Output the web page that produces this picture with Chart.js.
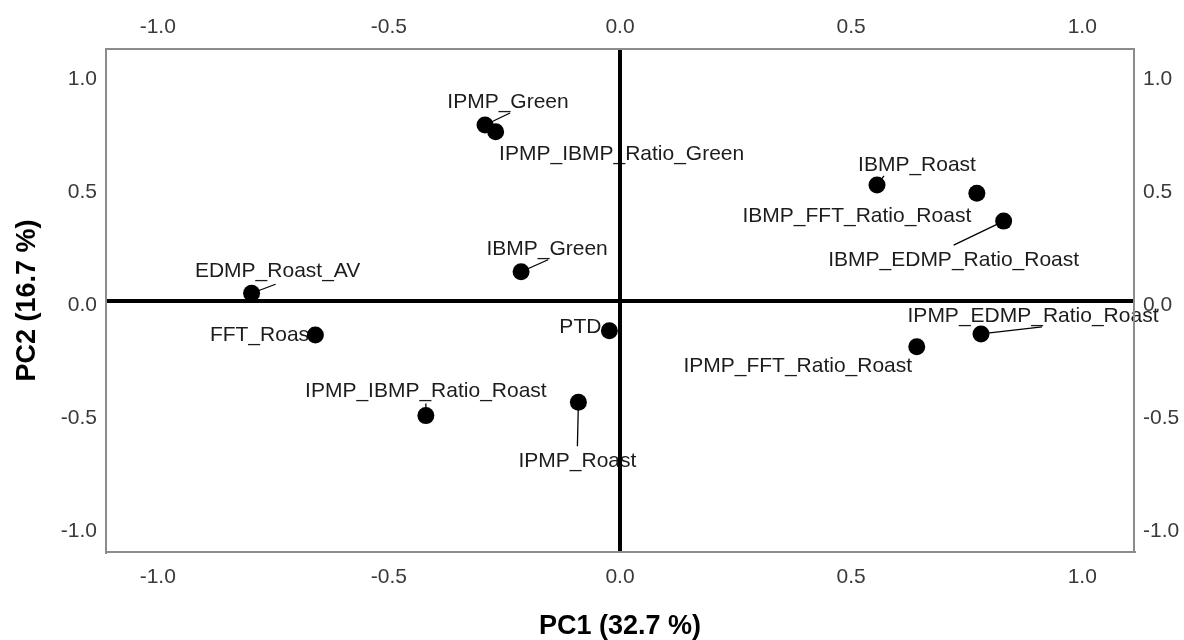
<!DOCTYPE html>
<html>
<head>
<meta charset="utf-8">
<script src="https://cdn.jsdelivr.net/npm/chart.js@4/dist/chart.umd.min.js"></script>
<style>
  html, body { margin: 0; padding: 0; background: #ffffff; }
  #wrap { width: 1184px; height: 640px; position: relative; }
</style>
</head>
<body>
<div id="wrap"><canvas id="c"></canvas></div>
<script>
// Component loadings of each variable on PC1 / PC2
const variables = [
  'IPMP_Green', 'IPMP_IBMP_Ratio_Green', 'IBMP_Roast', 'IBMP_FFT_Ratio_Roast',
  'IBMP_EDMP_Ratio_Roast', 'IBMP_Green', 'EDMP_Roast_AV', 'FFT_Roast', 'PTD',
  'IPMP_EDMP_Ratio_Roast', 'IPMP_FFT_Ratio_Roast', 'IPMP_IBMP_Ratio_Roast', 'IPMP_Roast'
];
const pc1 = [-0.292, -0.269, 0.556, 0.772, 0.830, -0.214, -0.797, -0.659, -0.023, 0.781, 0.642, -0.420, -0.090];
const pc2 = [0.776, 0.746, 0.511, 0.474, 0.351, 0.127, 0.032, -0.153, -0.134, -0.148, -0.204, -0.509, -0.450];

const tickValues = [-1.0, -0.5, 0.0, 0.5, 1.0];
const axisLimit = 1.112;

// Where each label sits relative to its point (pixels): text centre and optional leader end
const labelPlacement = [
  { dx: 23,   dy: -23, lead: [25, -12] },
  { dx: 126,  dy: 22,  lead: null },
  { dx: 40,   dy: -20, lead: [7, -9] },
  { dx: -120, dy: 23,  lead: null },
  { dx: -50,  dy: 39,  lead: [-50, 24] },
  { dx: 26,   dy: -23, lead: [27, -12] },
  { dx: 26,   dy: -22, lead: [24, -9] },
  { dx: -53,  dy: 0,   lead: null },
  { dx: -29,  dy: -4,  lead: null },
  { dx: 52,   dy: -18, lead: [61, -7] },
  { dx: -119, dy: 20,  lead: null },
  { dx: 0,    dy: -24, lead: [0, -12] },
  { dx: -1,   dy: 59,  lead: [-1, 44] }
];

const FONT = "'Liberation Sans', Arial, Helvetica, sans-serif";

const pointLabels = {
  id: 'pointLabels',
  beforeDraw(chart) {
    const ctx = chart.ctx;
    const meta = chart.getDatasetMeta(0);
    ctx.save();
    ctx.strokeStyle = '#000000';
    ctx.lineWidth = 1.3;
    ctx.fillStyle = '#1c1c1c';
    ctx.font = '21px ' + FONT;
    ctx.textAlign = 'center';
    ctx.textBaseline = 'middle';
    meta.data.forEach((pt, i) => {
      const p = labelPlacement[i];
      if (p.lead) {
        ctx.beginPath();
        ctx.moveTo(pt.x, pt.y);
        ctx.lineTo(pt.x + p.lead[0], pt.y + p.lead[1]);
        ctx.stroke();
      }
      ctx.fillText(variables[i], pt.x + p.dx, pt.y + p.dy);
    });
    ctx.restore();
  }
};

const fixedTicks = scale => { scale.ticks = tickValues.map(v => ({ value: v })); };
const tickFont = { family: FONT, size: 21 };
const tickLabel = v => Number(v).toFixed(1);
const zeroLine = c => (c.tick && c.tick.value === 0) ? '#000000' : 'rgba(0,0,0,0)';
const frame = { display: true, color: '#8c8c8c', width: 2 };

new Chart(document.getElementById('c'), {
  type: 'scatter',
  data: {
    datasets: [{
      data: pc1.map((x, i) => ({ x: x, y: pc2[i] })),
      backgroundColor: '#000000',
      borderWidth: 0,
      pointRadius: 8.5,
      pointHoverRadius: 8.5
    }]
  },
  options: {
    responsive: true,
    maintainAspectRatio: false,
    animation: false,
    devicePixelRatio: 1,
    layout: { padding: 0 },
    plugins: { legend: { display: false }, tooltip: { enabled: false } },
    scales: {
      x: {
        type: 'linear', position: 'bottom', min: -axisLimit, max: axisLimit,
        afterBuildTicks: fixedTicks,
        afterFit: s => { s.height = 88; },
        grid: { color: zeroLine, lineWidth: 4, drawTicks: false },
        border: frame,
        ticks: { font: tickFont, color: '#3a3a3a', padding: 13, callback: tickLabel, maxRotation: 0 },
        title: { display: true, text: 'PC1 (32.7 %)', color: '#000000',
                 font: { family: FONT, size: 27, weight: 'bold', lineHeight: 1 },
                 padding: { top: 0, bottom: 0 } }
      },
      x2: {
        type: 'linear', position: 'top', min: -axisLimit, max: axisLimit,
        afterBuildTicks: fixedTicks,
        afterFit: s => { s.height = 49; },
        grid: { display: false, drawTicks: false },
        border: frame,
        ticks: { font: tickFont, color: '#3a3a3a', padding: 9, callback: tickLabel, maxRotation: 0 }
      },
      y: {
        type: 'linear', position: 'left', min: -axisLimit, max: axisLimit,
        afterBuildTicks: fixedTicks,
        afterFit: s => { s.width = 106; },
        grid: { color: zeroLine, lineWidth: 4, drawTicks: false },
        border: frame,
        ticks: { font: tickFont, color: '#3a3a3a', padding: 9, labelOffset: 5, callback: tickLabel },
        title: { display: true, text: 'PC2 (16.7 %)', color: '#000000',
                 font: { family: FONT, size: 27, weight: 'bold', lineHeight: 1 },
                 padding: { top: 14, bottom: 0 } }
      },
      y2: {
        type: 'linear', position: 'right', min: -axisLimit, max: axisLimit,
        afterBuildTicks: fixedTicks,
        afterFit: s => { s.width = 50; },
        grid: { display: false, drawTicks: false },
        border: frame,
        ticks: { font: tickFont, color: '#3a3a3a', padding: 9, labelOffset: 5, callback: tickLabel }
      }
    }
  },
  plugins: [pointLabels]
});
</script>
</body>
</html>
